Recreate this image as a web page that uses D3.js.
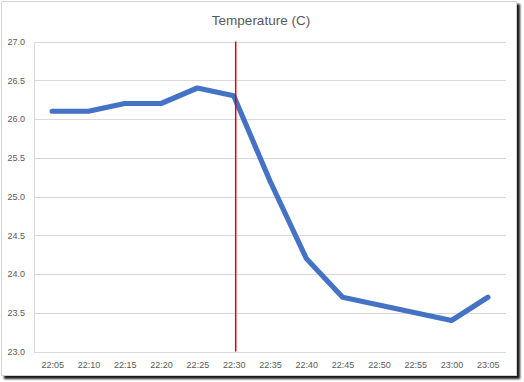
<!DOCTYPE html>
<html><head><meta charset="utf-8">
<script src="https://cdn.jsdelivr.net/npm/d3@7"></script>
<style>html,body{margin:0;padding:0;background:#fff;}svg{display:block;}</style>
</head><body>
<svg id="c" width="524" height="382"></svg>
<script>
const times = ["22:05","22:10","22:15","22:20","22:25","22:30","22:35","22:40","22:45","22:50","22:55","23:00","23:05"];
const temps = [26.1,26.1,26.2,26.2,26.4,26.3,25.2,24.2,23.7,23.6,23.5,23.4,23.7];
const yTicks = [23.0,23.5,24.0,24.5,25.0,25.5,26.0,26.5,27.0];
const markerTime = "22:30";
const title = "Temperature (C)";

const svg = d3.select("#c");
const defs = svg.append("defs");
const f = defs.append("filter").attr("id","sh").attr("x","-5%").attr("y","-5%").attr("width","115%").attr("height","115%");
f.append("feGaussianBlur").attr("in","SourceAlpha").attr("stdDeviation",1.2);
f.append("feOffset").attr("dx",3).attr("dy",3).attr("result","b");
f.append("feComponentTransfer").append("feFuncA").attr("type","linear").attr("slope",0.9);
const m = f.append("feMerge"); m.append("feMergeNode"); m.append("feMergeNode").attr("in","SourceGraphic");

svg.append("rect").attr("x",1.5).attr("y",1.5).attr("width",515).attr("height",374)
  .attr("fill","#fff").attr("stroke","#d4d4d4").attr("stroke-width",1).attr("filter","url(#sh)");

const L=34, R=506, T=41.5, B=351.5;
const x = d3.scalePoint().domain(times).range([L,R]).padding(0.5);
const y = d3.scaleLinear().domain([23,27]).range([B,T]);

const font = "'Liberation Sans', Arial, sans-serif";
svg.append("text").attr("x",261).attr("y",25).attr("text-anchor","middle")
  .attr("font-family",font).attr("font-size",13.5).attr("fill","#595959").text(title);

// gridlines
svg.append("g").selectAll("line").data(yTicks.slice(1)).join("line")
  .attr("x1",L).attr("x2",R).attr("y1",d=>Math.round(y(d))+0.5).attr("y2",d=>Math.round(y(d))+0.5)
  .attr("stroke","#d9d9d9").attr("stroke-width",1);

// y axis
const ya = svg.append("g").attr("transform",`translate(${L},0)`)
  .call(d3.axisLeft(y).tickValues(yTicks).tickFormat(d3.format(".1f")).tickSize(0).tickPadding(9));
ya.select(".domain").attr("stroke","#d9d9d9");
ya.selectAll("text").attr("font-family",font).attr("font-size",9).attr("fill","#595959");

// x axis
const xa = svg.append("g").attr("transform",`translate(0,${Math.round(B)+0.5})`)
  .call(d3.axisBottom(x).tickSize(0).tickPadding(9));
xa.select(".domain").attr("stroke","#d9d9d9").attr("d",`M${L},0H${R}`);
xa.selectAll("text").attr("font-family",font).attr("font-size",9).attr("fill","#595959");

// line
const line = d3.line().x((d,i)=>x(times[i])).y(d=>y(d));
svg.append("path").datum(temps).attr("d",line).attr("fill","none")
  .attr("stroke","#4472C4").attr("stroke-width",5.2).attr("stroke-linecap","round").attr("stroke-linejoin","round");

// marker
const mx = x(markerTime)+2;
svg.append("line").attr("x1",mx).attr("x2",mx).attr("y1",T).attr("y2",B)
  .attr("stroke","#E00000").attr("stroke-width",1.5);
</script>
</body></html>
